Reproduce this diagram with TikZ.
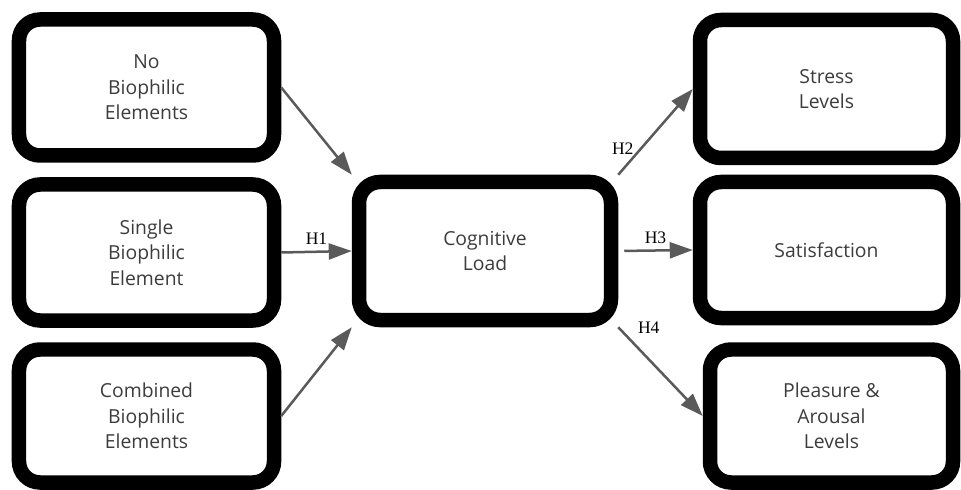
\documentclass[tikz,border=0pt]{standalone}
\usepackage{fontspec}
\setmainfont{Liberation Serif}
\newfontfamily\boxfont{Open Sans}
\usetikzlibrary{arrows.meta}
\definecolor{boxtext}{RGB}{60,60,60}
\definecolor{arrowgray}{RGB}{90,90,90}
\tikzset{
  block/.style={draw,line width=0.29cm,rounded corners=0.42cm,align=center,
    text=boxtext,font=\boxfont\fontsize{11}{14.6}\selectfont,
    minimum width=5.1cm,minimum height=2.72cm},
  arr/.style={draw=arrowgray,line width=0.05cm,-{Triangle[length=0.46cm,width=0.32cm]}},
  hyp/.style={font=\fontsize{10}{12}\selectfont,text=black}
}
\begin{document}
\begin{tikzpicture}
\useasboundingbox (0,0) rectangle (19.22,9.78);

\node (none) at (2.93,8.03) [block] {No\\Biophilic\\Elements};
\node (single) at (2.93,4.73) [block] {Single\\Biophilic\\Element};
\node (combined) at (2.93,1.46) [block,minimum height=2.66cm] {Combined\\Biophilic\\Elements};
\node (load) at (9.70,4.76) [block,minimum width=5.04cm,minimum height=2.76cm] {Cognitive\\Load};
\node (stress) at (16.53,8.0) [block,minimum width=5.06cm,minimum height=2.76cm] {Stress\\Levels};
\node (satis) at (16.53,4.78) [block,minimum width=5.06cm] {Satisfaction};
\node (pleasure) at (16.63,1.46) [block,minimum width=4.86cm,minimum height=2.66cm] {Pleasure \&\\Arousal\\Levels};

\draw [arr] (none.east) -- (load.north west);
\draw [arr] (single.east) -- node [hyp,above] {H1} (load.west);
\draw [arr] (combined.east) -- (load.south west);
\draw [arr] (load.north east) -- node [hyp,pos=0.3,left] {H2} (stress.west);
\draw [arr,shorten <=0.12cm] (load.east) -- node [hyp,above] {H3} (satis.west);
\draw [arr] (load.south east) -- node [hyp,pos=0.15,above right] {H4} (pleasure.west);

\end{tikzpicture}
\end{document}
